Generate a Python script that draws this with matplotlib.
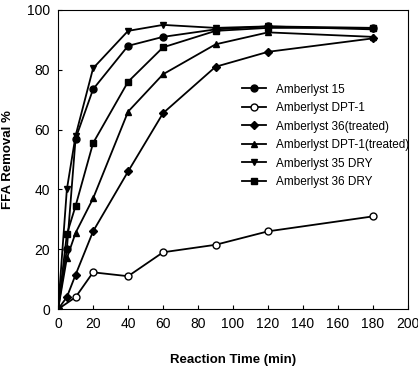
import matplotlib.pyplot as plt

plt.rcParams['font.family'] = ['Liberation Sans', 'DejaVu Sans']

time = [0, 5, 10, 20, 40, 60, 90, 120, 180]
time_dpt = [0, 10, 20, 40, 60, 90, 120, 180]

a15 = [0, 20, 57, 73.5, 88, 91, 93.5, 94.5, 94]
dpt1 = [0, 4, 12.3, 11, 19, 21.5, 26, 31]
a36_treated = [0, 4, 11.5, 26, 46, 65.5, 81, 86, 90.5]
dpt1_treated = [0, 17, 25.5, 37, 66, 78.5, 88.5, 92.5, 91]
a35_dry = [0, 40, 58, 80.5, 93, 95, 94, 94.5, 93.5]
a36_dry = [0, 25, 34.5, 55.5, 76, 87.5, 93, 94, 94]

labels = ['Amberlyst 15', 'Amberlyst DPT-1', 'Amberlyst 36(treated)',
          'Amberlyst DPT-1(treated)', 'Amberlyst 35 DRY', 'Amberlyst 36 DRY']

fig = plt.figure(figsize=(4.18, 3.68), dpi=100)
ax = fig.add_axes([0.139, 0.160, 0.837, 0.813])

kw = dict(color='black', lw=1.3, ms=5)
ax.plot(time, a15, marker='o', label=labels[0], **kw)
ax.plot(time_dpt, dpt1, marker='o', mfc='white', mec='black', label=labels[1], **kw)
ax.plot(time, a36_treated, marker='D', label=labels[2], color='black', lw=1.3, ms=4.5)
ax.plot(time, dpt1_treated, marker='^', label=labels[3], **kw)
ax.plot(time, a35_dry, marker='v', label=labels[4], **kw)
ax.plot(time, a36_dry, marker='s', label=labels[5], color='black', lw=1.3, ms=4.5)

ax.set_xlim(0, 200)
ax.set_ylim(0, 100)
ax.set_xticks(range(0, 201, 20))
ax.set_yticks(range(0, 101, 20))
ax.tick_params(direction='in', labelsize=10, length=3, pad=6)
ax.set_xlabel('Reaction Time (min)', fontsize=9.5, fontweight='bold', labelpad=16)
ax.set_ylabel('FFA Removal %', fontsize=9.5, fontweight='bold', labelpad=9)

ax.legend(loc='upper left', bbox_to_anchor=(0.578, 0.773), bbox_transform=fig.transFigure,
          frameon=False, fontsize=8.5, handlelength=2.1, handletextpad=0.8,
          labelspacing=0.55, borderpad=0, borderaxespad=0)

fig.savefig('out.png', dpi=100)
